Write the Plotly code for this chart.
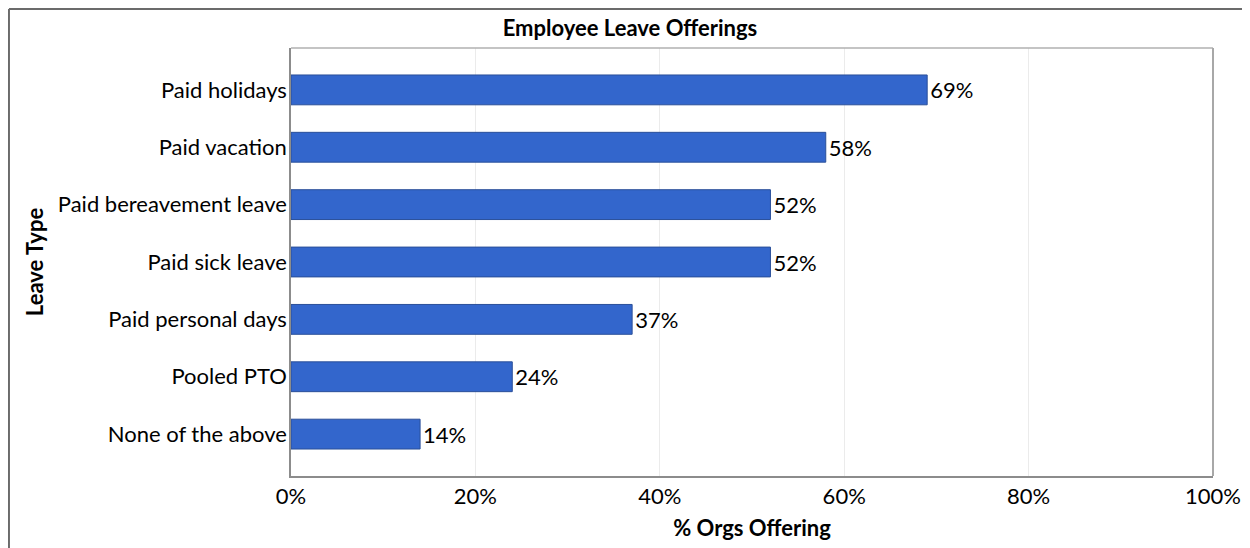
import plotly.graph_objects as go

leave_types = ["None of the above", "Pooled PTO", "Paid personal days", "Paid sick leave",
               "Paid bereavement leave", "Paid vacation", "Paid holidays"]
pct_offering = [14, 24, 37, 52, 52, 58, 69]
x_ticks = [0, 20, 40, 60, 80, 100]
x_tick_labels = ["0%", "20%", "40%", "60%", "80%", "100%"]

font_name = "Lato"

fig = go.Figure(go.Bar(
    x=pct_offering, y=leave_types, orientation="h",
    marker=dict(color="#3366CC", line=dict(color="#2a4f99", width=1)),
    text=[f"{v}%" for v in pct_offering], textposition="outside",
    textfont=dict(size=22, color="black", family=font_name),
    cliponaxis=False,
))

# page body has an 8px margin, so margins are trimmed to land the plot area in place
fig.update_layout(
    width=1250, height=548,
    margin=dict(l=283, r=45, t=40, b=80),
    plot_bgcolor="white", paper_bgcolor="white",
    bargap=0.48,
    showlegend=False,
    title=dict(text="<b>Employee Leave Offerings</b>", x=0.4976, xanchor="center",
               y=0.9635, yanchor="middle", font=dict(size=22, color="black", family=font_name)),
    font=dict(family=font_name, color="black"),
)

fig.update_xaxes(
    range=[0, 100], tickvals=x_ticks, ticktext=x_tick_labels,
    tickfont=dict(size=22, color="black"), ticks="", ticklen=0,
    showgrid=True, gridcolor="#ebebeb", gridwidth=1, zeroline=False,
    showline=True, linecolor="#8c8c8c", linewidth=1.5, mirror=False,
    title=dict(text="<b>% Orgs Offering</b>", font=dict(size=22, color="black"), standoff=12),
)
fig.update_yaxes(
    range=[-0.73, 6.73],
    tickfont=dict(size=22, color="black"), ticks="", ticklabelstandoff=-2,
    showline=True, linecolor="#8c8c8c", linewidth=1.5,
    title=dict(text="<b>Leave Type</b>", font=dict(size=22, color="black"), standoff=8),
)

# light frame on top/right of plot area
fig.add_shape(type="line", xref="paper", yref="paper", x0=0, x1=1, y0=1, y1=1,
              line=dict(color="#b0b0b0", width=1.5))
fig.add_shape(type="line", xref="paper", yref="paper", x0=1, x1=1, y0=0, y1=1,
              line=dict(color="#a8a8a8", width=2))
# outer chart border (top and left visible)
fig.add_shape(type="line", xref="paper", yref="paper", x0=-0.3059, x1=1.06, y0=1.0911, y1=1.0911,
              line=dict(color="#6b6b6b", width=2))
fig.add_shape(type="line", xref="paper", yref="paper", x0=-0.3059, x1=-0.3059, y0=-0.2, y1=1.0911,
              line=dict(color="#6b6b6b", width=2))

fig.write_html("out.html")
